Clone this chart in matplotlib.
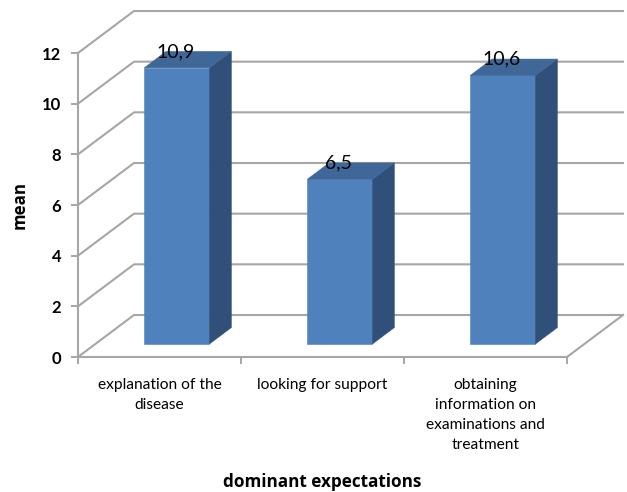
import matplotlib
matplotlib.use("Agg")
import matplotlib.pyplot as plt
from matplotlib.patches import Polygon

categories = ["explanation of the\ndisease", "looking for support",
              "obtaining\ninformation on\nexaminations and\ntreatment"]
means = [10.9, 6.5, 10.6]
mean_labels = ["10,9", "6,5", "10,6"]
y_ticks = [0, 2, 4, 6, 8, 10, 12]

W, H = 627, 492
GRID = "#a6a6a6"
FRONT = "#4f81bd"
TOP = "#3f6797"
SIDE = "#30507a"

fig = plt.figure(figsize=(W / 100, H / 100), dpi=100)
ax = fig.add_axes([78 / W, 1 - 357 / H, 489 / W, 304 / H])
ax.set_xlim(0, 3)
ax.set_ylim(0, 12)

# depth of the floor, in data units
depth_x = 56 / 163
depth_y = 42 / 25.33
# bar sits part way into the floor
offset = 0.31
bar_depth = 0.39
bar_width = 0.40

for v in y_ticks:
    ax.plot([0, depth_x, 3 + depth_x], [v, v + depth_y, v + depth_y],
            color=GRID, lw=1.5, clip_on=False, zorder=1)
ax.plot([3, 3 + depth_x], [0, depth_y], color=GRID, lw=1.5, clip_on=False, zorder=1)

for i, m in enumerate(means):
    x0 = i + 0.5 - bar_width / 2 + offset * depth_x
    x1 = x0 + bar_width
    y0 = offset * depth_y
    y1 = y0 + m
    dx = bar_depth * depth_x
    dy = bar_depth * depth_y
    ax.add_patch(Polygon([(x0, y0), (x1, y0), (x1, y1), (x0, y1)],
                         fc=FRONT, ec=FRONT, lw=0.4, clip_on=False, zorder=3))
    ax.add_patch(Polygon([(x1, y0), (x1 + dx, y0 + dy), (x1 + dx, y1 + dy), (x1, y1)],
                         fc=SIDE, ec=SIDE, lw=0.4, clip_on=False, zorder=3))
    ax.add_patch(Polygon([(x0, y1), (x1, y1), (x1 + dx, y1 + dy), (x0 + dx, y1 + dy)],
                         fc=TOP, ec=TOP, lw=0.4, clip_on=False, zorder=3))
    ax.text((x0 + x1) / 2 - 0.01, y1 + 0.64, mean_labels[i], ha="center", va="center",
            family="Lato", fontsize=14, color="black", zorder=4)

for s in ["top", "right"]:
    ax.spines[s].set_visible(False)
for s in ["left", "bottom"]:
    ax.spines[s].set_color(GRID)
    ax.spines[s].set_linewidth(1.5)
    ax.spines[s].set_zorder(2)

ax.set_yticks(y_ticks)
ax.set_yticklabels([str(v) for v in y_ticks], family="Lato", fontsize=12, fontweight="bold")
ax.set_xticks([0, 1, 2, 3])
ax.set_xticklabels([])
ax.tick_params(axis="both", color=GRID, width=1.4, length=5)
ax.tick_params(axis="y", pad=7)

for i, c in enumerate(categories):
    ax.annotate(c, xy=(i + 0.5, 0), xycoords=("data", "axes fraction"),
                xytext=(0, -15), textcoords="offset points", ha="center", va="top",
                family="Lato", fontsize=11.2, linespacing=1.56)

fig.text(20 / W, 1 - 205 / H, "mean", rotation=90, ha="center", va="center",
         family="Open Sans", fontweight="bold", fontsize=12.2)
fig.text(322 / W, 1 - 482 / H, "dominant expectations", ha="center", va="center",
         family="Open Sans", fontweight="bold", fontsize=12.3)

fig.savefig("out.png", dpi=100)
